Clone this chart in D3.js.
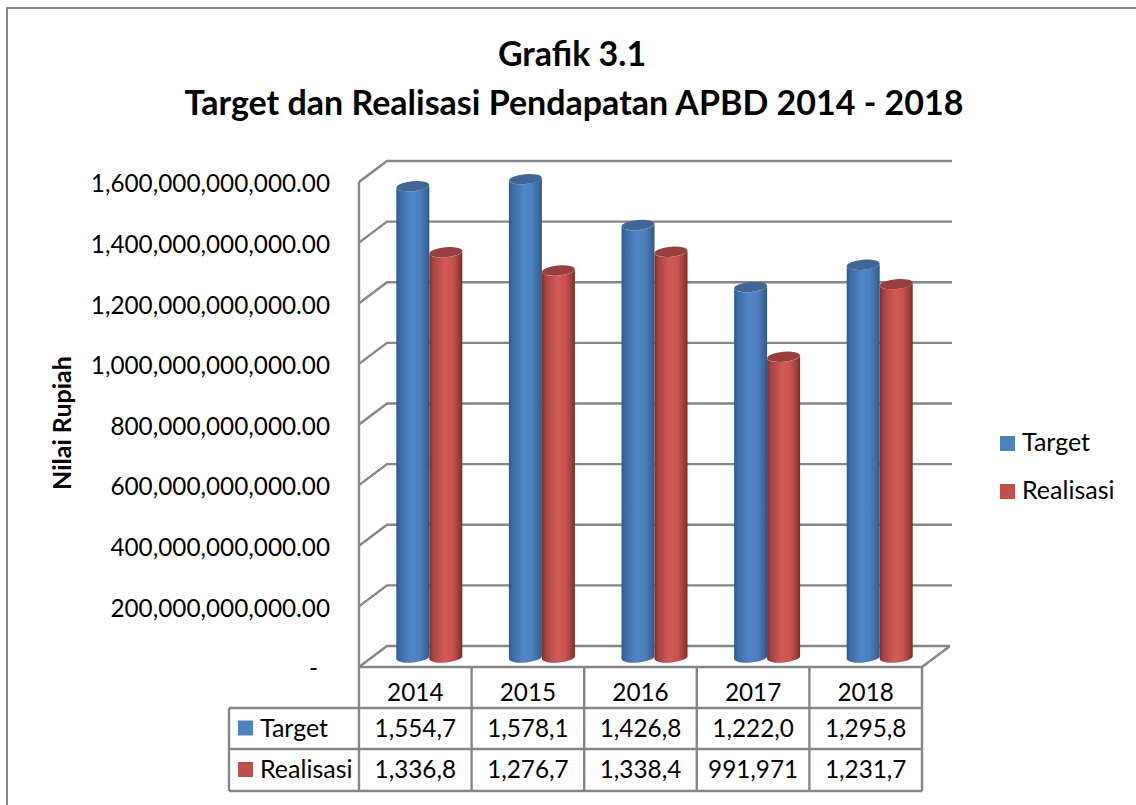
<!DOCTYPE html>
<meta charset="utf-8">
<script src="https://d3js.org/d3.v7.min.js"></script>
<style>
  body { margin: 0; background: #fff; }
  text { font-family: Lato, "Noto Sans", sans-serif; fill: #000; }
</style>
<div id="chart"></div>
<script>
// nilai dalam miliar rupiah
var years = ["2014", "2015", "2016", "2017", "2018"];
var seriesNames = ["Target", "Realisasi"];
var targetValues = [1554.7, 1578.1, 1426.8, 1222.0, 1295.8];
var realisasiValues = [1336.8, 1276.7, 1338.4, 991.971, 1231.7];
var targetLabels = ["1,554,7", "1,578,1", "1,426,8", "1,222,0", "1,295,8"];
var realisasiLabels = ["1,336,8", "1,276,7", "1,338,4", "991,971", "1,231,7"];
var axisTicks = [0, 200, 400, 600, 800, 1000, 1200, 1400, 1600];
var seriesColors = ["#4f81bd", "#c0504d"];

var width = 1136, height = 805;
var gray = "#868686";
var depthX = 28, depthY = 21;
var plotTop = 182, plotBottom = 667;
var rowY = [667, 708, 749, 791];
var labelColX = 229;
var labelSize = "25px";

var svg = d3.select("#chart").append("svg")
  .attr("width", width)
  .attr("height", height)
  .style("display", "block");

// gradients for the cylinders
var defs = svg.append("defs");
var gradStops = [
  [["0%", "#2f5a8c"], ["12%", "#3c6ca6"], ["45%", "#4f86c6"], ["70%", "#4c80bf"], ["92%", "#3a6699"], ["100%", "#2f5582"]],
  [["0%", "#7c2d2b"], ["12%", "#a84340"], ["45%", "#cf5a57"], ["70%", "#c9544f"], ["92%", "#963a37"], ["100%", "#742a28"]]
];
gradStops.forEach(function(stops, i) {
  var g = defs.append("linearGradient").attr("id", "cyl" + i);
  stops.forEach(function(s) {
    g.append("stop").attr("offset", s[0]).attr("stop-color", s[1]);
  });
});

// outer frame, cropped on the right and bottom
svg.append("path")
  .attr("d", "M" + width + ",8H7V" + height)
  .attr("fill", "none")
  .attr("stroke", gray)
  .attr("stroke-width", 2);

// title
svg.append("text")
  .attr("x", 572).attr("y", 66)
  .attr("text-anchor", "middle")
  .style("font-size", "34px").style("font-weight", 700)
  .text("Grafik 3.1");
svg.append("text")
  .attr("x", 574).attr("y", 115)
  .attr("text-anchor", "middle")
  .style("font-size", "34px").style("font-weight", 700)
  .text("Target dan Realisasi Pendapatan APBD 2014 - 2018");

// scales: front edge of the box, back wall and the plane the bars stand on
var yFront = d3.scaleLinear().domain([0, 1600]).range([plotBottom, plotTop]);
var yBack = d3.scaleLinear().domain([0, 1600]).range([plotBottom - depthY, plotTop - depthY]);
var yBar = d3.scaleLinear().domain([0, 1600]).range([plotBottom - depthY / 2 + 1, plotTop - depthY / 2 + 1]);

var xCat = d3.scaleBand().domain(years).range([359, 922]);
var xSeries = d3.scaleBand().domain(seriesNames).range([0, 66]);

// back wall grid and side wall
var grid = svg.append("g")
  .attr("fill", "none")
  .attr("stroke", gray)
  .attr("stroke-width", 2.4);

axisTicks.forEach(function(t) {
  grid.append("path")
    .attr("d", "M359," + yFront(t) + "L" + (359 + depthX) + "," + yBack(t) + "H" + (922 + depthX + (t == 0 ? 0 : 2)));
});
grid.append("path")
  .attr("d", "M359," + yFront(1600) + "V" + yFront(0));
grid.append("path")
  .attr("d", "M922," + yFront(0) + "L" + (922 + depthX) + "," + yBack(0));

// value axis
var axis = d3.axisLeft(yFront)
  .tickValues(axisTicks)
  .tickSize(0)
  .tickPadding(29)
  .tickFormat(function(d) { return d == 0 ? "-" : d3.format(",.2f")(d * 1e9); });
var axisG = svg.append("g").attr("transform", "translate(359,2)").call(axis);
axisG.select(".domain").remove();
axisG.selectAll("text").style("font-size", "24.3px");
axisG.selectAll(".tick").filter(function(d) { return d == 0; }).select("text").attr("x", -41);

svg.append("text")
  .attr("transform", "translate(71,423) rotate(-90)")
  .attr("text-anchor", "middle")
  .style("font-size", "25px").style("font-weight", 700)
  .text("Nilai Rupiah");

// cylinders
var rx = 16.5, ry = 5, tilt = 1.6;
function cylinderSide(x0, x1, yt, yb) {
  return "M" + x0 + "," + (yt + tilt) +
    "V" + (yb + tilt) +
    "A" + rx + "," + ry + " -5 0 0 " + x1 + "," + (yb - tilt) +
    "V" + (yt - tilt) +
    "A" + rx + "," + ry + " -5 0 1 " + x0 + "," + (yt + tilt) + "Z";
}

var seriesValues = [targetValues, realisasiValues];
seriesNames.forEach(function(name, i) {
  var g = svg.append("g").attr("class", "series-" + i);
  var bars = g.selectAll("g")
    .data(years.map(function(y, j) { return {year: y, value: seriesValues[i][j]}; }))
    .enter().append("g");
  var left = function(d) { return xCat(d.year) + xCat.bandwidth() / 2 + depthX / 2 - 33 + xSeries(name); };
  bars.append("path")
    .attr("d", function(d) {
      var x0 = left(d);
      return cylinderSide(x0, x0 + xSeries.bandwidth(), yBar(d.value), yBar(0));
    })
    .attr("fill", "url(#cyl" + i + ")");
  bars.append("ellipse")
    .attr("cx", function(d) { return left(d) + rx; })
    .attr("cy", function(d) { return yBar(d.value); })
    .attr("rx", rx)
    .attr("ry", ry)
    .attr("transform", function(d) { return "rotate(-5 " + (left(d) + rx) + " " + yBar(d.value) + ")"; })
    .attr("fill", d3.color(seriesColors[i]).darker(0.65));
});

// data table
var table = svg.append("g");
var tableLines = table.append("g")
  .attr("fill", "none")
  .attr("stroke", gray)
  .attr("stroke-width", 2.4);

rowY.slice(1).forEach(function(y) {
  tableLines.append("line").attr("x1", labelColX).attr("x2", 922).attr("y1", y).attr("y2", y);
});
years.forEach(function(y) {
  tableLines.append("line").attr("x1", xCat(y)).attr("x2", xCat(y)).attr("y1", rowY[0]).attr("y2", rowY[3]);
});
tableLines.append("line").attr("x1", 922).attr("x2", 922).attr("y1", rowY[0]).attr("y2", rowY[3]);
tableLines.append("line").attr("x1", labelColX).attr("x2", labelColX).attr("y1", rowY[1]).attr("y2", rowY[3]);
tableLines.append("line").attr("x1", 359).attr("x2", 922).attr("y1", rowY[0]).attr("y2", rowY[0]);

var rows = [years, targetLabels, realisasiLabels];
var rowShift = [13, 8, 8];
rows.forEach(function(labels, r) {
  table.append("g").selectAll("text")
    .data(labels)
    .enter().append("text")
    .attr("x", function(d, j) { return xCat(years[j]) + xCat.bandwidth() / 2; })
    .attr("y", (rowY[r] + rowY[r + 1]) / 2 + rowShift[r])
    .attr("text-anchor", "middle")
    .style("font-size", "24.3px")
    .text(function(d) { return d; });
});

seriesNames.forEach(function(name, i) {
  table.append("rect")
    .attr("x", 238).attr("y", (rowY[i + 1] + rowY[i + 2]) / 2 - 8)
    .attr("width", 15).attr("height", 15)
    .attr("fill", seriesColors[i]);
  table.append("text")
    .attr("x", 260).attr("y", (rowY[i + 1] + rowY[i + 2]) / 2 + 8)
    .style("font-size", labelSize)
    .text(name);
});

// legend
var legendY = d3.scalePoint().domain(seriesNames).range([443, 491]);
seriesNames.forEach(function(name, i) {
  svg.append("rect")
    .attr("x", 1000).attr("y", legendY(name) - 7)
    .attr("width", 15).attr("height", 15)
    .attr("fill", seriesColors[i]);
  svg.append("text")
    .attr("x", 1022).attr("y", legendY(name) + 8)
    .style("font-size", labelSize)
    .text(name);
});
</script>
